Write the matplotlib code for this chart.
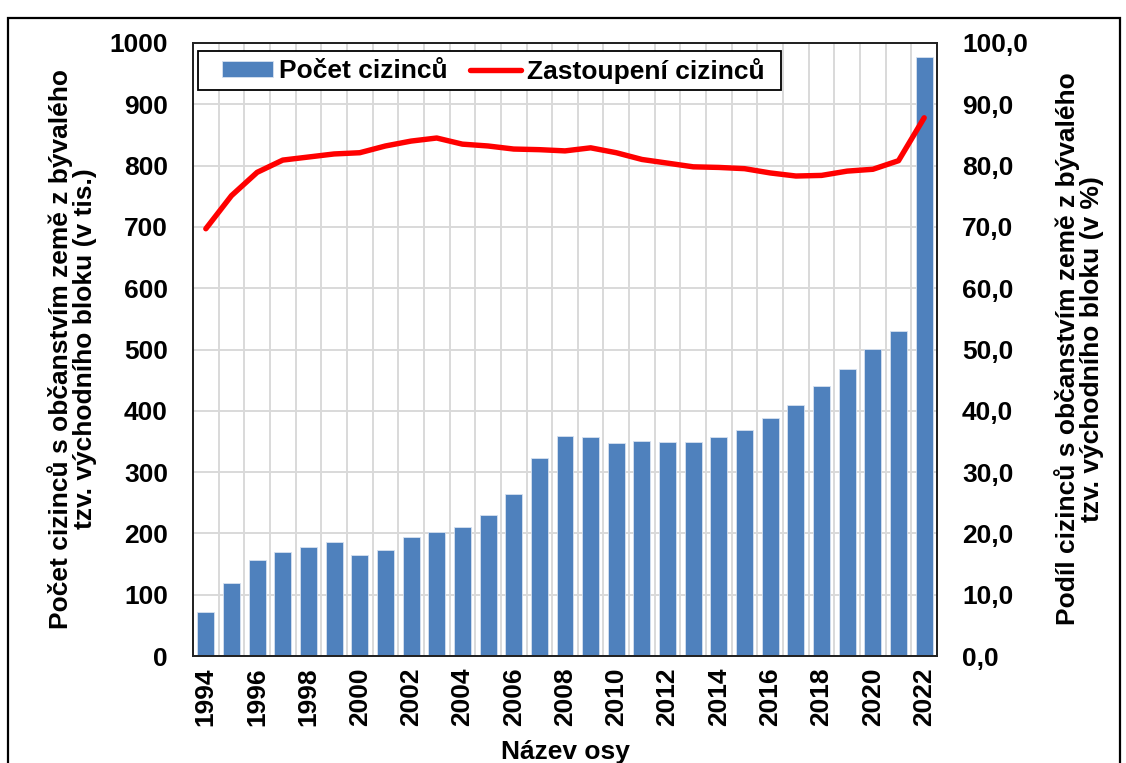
import matplotlib
matplotlib.use("Agg")
import matplotlib.pyplot as plt
import numpy as np
from matplotlib.patches import Rectangle
from matplotlib.ticker import MultipleLocator, FixedLocator, FuncFormatter

plt.rcParams['font.family'] = ['Liberation Sans', 'DejaVu Sans']
plt.rcParams['font.weight'] = 'bold'

years = list(range(1994, 2023))
pocet = [72, 119, 157, 170, 178, 186, 165, 173, 194, 202, 210, 230, 264, 323, 359,
         357, 347, 350, 349, 349, 357, 369, 388, 409, 440, 468, 501, 530, 977]
zastoupeni = [69.7, 75.1, 78.9, 80.9, 81.4, 81.9, 82.1, 83.2, 84.0, 84.5, 83.5, 83.2,
              82.7, 82.6, 82.4, 82.9, 82.1, 81.0, 80.4, 79.8, 79.7, 79.5, 78.8, 78.3,
              78.4, 79.1, 79.4, 80.8, 87.8]
year_labels = [str(y) for y in years[::2]]

FS = 19
W, H = 1126, 763
fig = plt.figure(figsize=(W / 100, H / 100), dpi=100)
ax = fig.add_axes([193 / W, 1 - 656 / H, (937 - 193) / W, (656 - 43) / H])
ax2 = ax.twinx()

x = np.arange(len(years))
bars = ax.bar(x, pocet, width=0.66, color='#4F81BD', edgecolor='#D6E1F0', linewidth=0.6,
              label='Počet cizinců', zorder=2)
line, = ax2.plot(x, zastoupeni, color='#FF0000', lw=3.9, solid_capstyle='round',
                 solid_joinstyle='round', label='Zastoupení cizinců', zorder=3)

ax.set_xlim(-0.5, len(years) - 0.5)
ax.set_ylim(0, 1000)
ax2.set_ylim(0, 100)
ax.yaxis.set_major_locator(MultipleLocator(100))
ax2.yaxis.set_major_locator(MultipleLocator(10))
ax2.yaxis.set_major_formatter(FuncFormatter(lambda v, p: f"{v:.1f}".replace('.', ',')))

ax.set_xticks(x[::2])
ax.set_xticklabels(year_labels, rotation=90)
ax.xaxis.set_minor_locator(FixedLocator(np.arange(0.5, len(years) - 1, 1.0)))

ax.grid(axis='y', which='major', color='#D9D9D9', lw=1.4, zorder=0)
ax.grid(axis='x', which='minor', color='#D9D9D9', lw=1.4, zorder=0)
ax.set_axisbelow(True)

ax.tick_params(axis='y', length=0, pad=18, labelsize=FS)
ax2.tick_params(axis='y', length=0, pad=18, labelsize=FS)
ax.tick_params(axis='x', which='both', length=0, pad=8, labelsize=FS)

for a in (ax, ax2):
    for s in a.spines.values():
        s.set_color('#222222')
        s.set_linewidth(1.3)

fig.text(72 / W, 1 - 349 / H,
         "Počet cizinců s občanstvím země z bývalého\ntzv. východního bloku (v tis.)",
         rotation=90, ha='center', va='center', multialignment='center',
         fontsize=FS, fontweight='bold', linespacing=1.05)
fig.text(1079 / W, 1 - 349 / H,
         "Podíl cizinců s občanstvím země z bývalého\ntzv. východního bloku (v %)",
         rotation=90, ha='center', va='center', multialignment='center',
         fontsize=FS, fontweight='bold', linespacing=1.05)
fig.text(565 / W, 1 - 752 / H, "Název osy", ha='center', va='center',
         fontsize=FS, fontweight='bold')

# legend frame (white box with black border)
fig.patches.append(Rectangle((198 / W, 1 - 90 / H), (781 - 198) / W, 39 / H,
                             transform=fig.transFigure, facecolor='white',
                             edgecolor='black', lw=1.3, zorder=5))
leg = fig.legend([bars, line], ['Počet cizinců', 'Zastoupení cizinců'], ncol=2,
                 loc='center left', bbox_to_anchor=(222 / W, 1 - 70.5 / H),
                 bbox_transform=fig.transFigure, borderaxespad=0, frameon=False,
                 fontsize=FS, handlelength=1.93, handleheight=0.57,
                 handletextpad=0.22, columnspacing=0.85, borderpad=0)
leg.set_zorder(6)

# outer chart frame
fig.patches.append(Rectangle((8 / W, -0.05), (1120 - 8) / W, 1.05 - 18 / H,
                             transform=fig.transFigure, fill=False, edgecolor='black',
                             lw=1.6, zorder=10))

fig.savefig("out.png", dpi=100)
